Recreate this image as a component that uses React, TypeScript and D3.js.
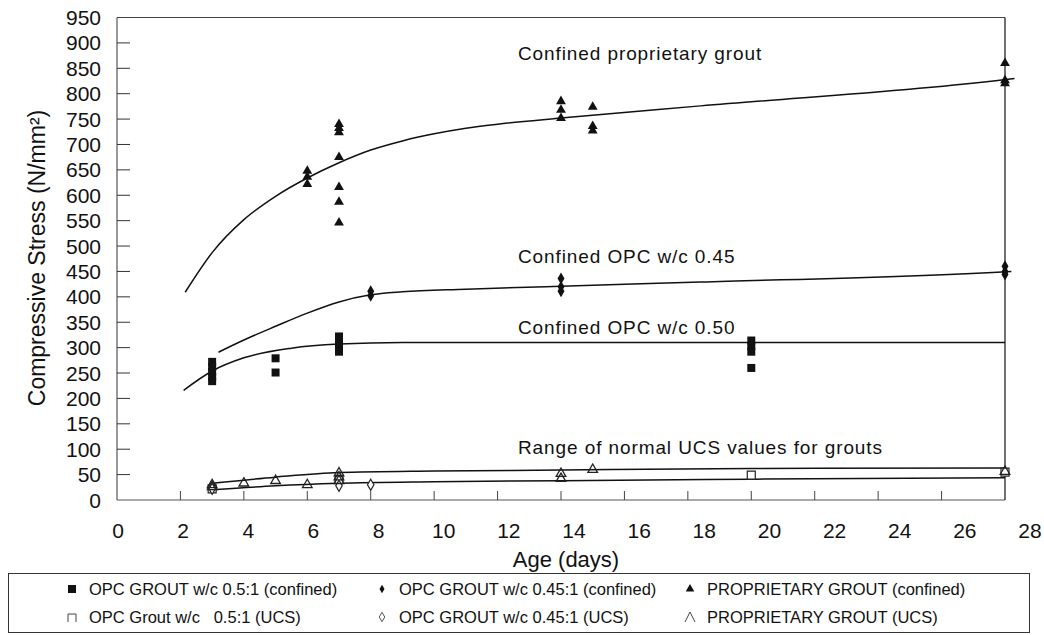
import React from 'react';
import * as d3 from 'd3';

// tick labels
const yTickValues = [0, 50, 100, 150, 200, 250, 300, 350, 400, 450, 500, 550, 600, 650, 700, 750, 800, 850, 900, 950];
const xTickValues = [0, 2, 4, 6, 8, 10, 12, 14, 16, 18, 20, 22, 24, 26, 28];

// fitted curves, [age, stress]
const curveProprietary: [number, number][] = [
  [2.15, 409], [3, 487], [4, 552], [5, 598], [6, 634], [7, 664], [8, 689], [9, 707],
  [10, 721], [11, 732], [12, 740], [14, 752], [18.4, 776], [27.9, 827], [28.3, 830],
];
const curveOpc45: [number, number][] = [
  [3.2, 291], [4, 315], [5, 342], [6, 368], [7, 390], [8, 404], [9, 410], [11, 415],
  [14, 421], [18.4, 429], [27.9, 449], [28.2, 450],
];
const curveOpc50: [number, number][] = [
  [2.1, 216], [3, 254], [4, 280], [5.5, 299], [7, 307], [9, 310], [14, 310], [28, 310],
];
const curveUcsHigh: [number, number][] = [
  [3, 33], [5, 45], [7, 54], [10, 57], [14, 59], [20, 62], [28, 63],
];
const curveUcsLow: [number, number][] = [
  [3, 20], [5, 28], [7, 33], [10, 36], [14, 38], [20, 41], [28, 44],
];

// measured points
const propConfined: [number, number][] = [
  [6, 648], [6, 636], [6, 622], [7, 740], [7, 732], [7, 724], [7, 675], [7, 616], [7, 587], [7, 546],
  [14, 785], [14, 768], [14, 752], [15, 774], [15, 736], [15, 727], [28, 860], [28, 826], [28, 820],
];
const opc45Confined: [number, number][] = [
  [8, 411], [8, 402], [14, 436], [14, 420], [14, 411], [28, 460], [28, 450], [28, 444],
];
const opc50Confined: [number, number][] = [
  [3, 272], [3, 262], [3, 252], [3, 242], [3, 234], [5, 279], [5, 251],
  [7, 322], [7, 312], [7, 302], [7, 292], [20, 314], [20, 303], [20, 292], [20, 260],
];
const propUcs: [number, number][] = [
  [3, 26], [3, 30], [4, 33], [5, 38], [6, 30], [7, 53], [7, 45], [7, 38], [14, 52], [14, 42], [15, 60], [28, 56],
];
const opc45Ucs: [number, number][] = [[3, 22], [7, 28], [8, 30]];
const opc50Ucs: [number, number][] = [[3, 22], [7, 40], [20, 49], [28, 55]];

const annotations = [
  { text: 'Confined proprietary grout', value: 880 },
  { text: 'Confined OPC w/c 0.45', value: 480 },
  { text: 'Confined OPC w/c 0.50', value: 340 },
  { text: 'Range of normal UCS values for grouts', value: 105 },
];

const legendItems = [
  { label: 'OPC GROUT w/c 0.5:1 (confined)', kind: 'sqFill' },
  { label: 'OPC GROUT w/c 0.45:1 (confined)', kind: 'diaFill' },
  { label: 'PROPRIETARY GROUT (confined)', kind: 'triFill' },
  { label: 'OPC Grout w/c   0.5:1 (UCS)', kind: 'sqOpen' },
  { label: 'OPC GROUT w/c 0.45:1 (UCS)', kind: 'diaOpen' },
  { label: 'PROPRIETARY GROUT (UCS)', kind: 'lambda' },
];

const FONT = '"Liberation Sans", Arial, Helvetica, sans-serif';

const App: React.FC = () => {
  const margin = { left: 117, right: 1005, top: 17.5, bottom: 500 };
  const x = d3.scaleLinear().domain([0, 28]).range([margin.left, margin.right]);
  // the printed day labels in the source sit on a slightly wider spacing than the ticks
  const xLabel = d3.scaleLinear().domain([0, 28]).range([118, 1030]);
  const y = d3.scaleLinear().domain([0, 950]).range([margin.bottom, margin.top]);

  const line = d3
    .line<[number, number]>()
    .x((d) => x(d[0]))
    .y((d) => y(d[1]))
    .curve(d3.curveMonotoneX);

  const tri = d3.symbol().type(d3.symbolTriangle).size(42)()!;
  const sq = d3.symbol().type(d3.symbolSquare).size(64)()!;
  const dia = d3.symbol().type(d3.symbolDiamond).size(42)()!;
  const triOpen = d3.symbol().type(d3.symbolTriangle).size(40)()!;
  const diaOpen = d3.symbol().type(d3.symbolDiamond).size(36)()!;
  const sqOpen = d3.symbol().type(d3.symbolSquare).size(64)()!;

  const legendCols = [72, 382, 690];
  const legendRows = [589, 617];

  const legendMarker = (kind: string, cx: number, cy: number) => {
    const t = `translate(${cx},${cy})`;
    switch (kind) {
      case 'sqFill':
        return <rect x={cx - 4} y={cy - 4} width={8} height={8} fill="#111" />;
      case 'diaFill':
        return <path transform={t} d={d3.symbol().type(d3.symbolDiamond).size(22)()!} fill="#111" />;
      case 'triFill':
        return <path transform={t} d={d3.symbol().type(d3.symbolTriangle).size(32)()!} fill="#111" />;
      case 'sqOpen':
        return <path d={`M${cx - 4},${cy + 5}V${cy - 3}H${cx + 4}V${cy + 5}`} fill="none" stroke="#444" strokeWidth={1} />;
      case 'diaOpen':
        return <path transform={t} d={d3.symbol().type(d3.symbolDiamond).size(26)()!} fill="none" stroke="#555" strokeWidth={1} />;
      default:
        return <path d={`M${cx - 5},${cy + 5}L${cx},${cy - 5}L${cx + 5},${cy + 5}`} fill="none" stroke="#444" strokeWidth={1} />;
    }
  };

  return (
    <svg
      width={1044}
      height={635}
      style={{ position: 'absolute', left: 0, top: 0, display: 'block', background: '#fff' }}
      fontFamily={FONT}
    >
      {/* plot frame */}
      <line x1={x(0)} x2={x(0)} y1={y(950)} y2={y(0)} stroke="#555" strokeWidth={1.2} />
      <line x1={x(0)} x2={x(28)} y1={y(0)} y2={y(0)} stroke="#555" strokeWidth={1.2} />
      <line x1={x(0)} x2={x(28)} y1={y(950)} y2={y(950)} stroke="#444" strokeWidth={1} />
      <line x1={x(28)} x2={x(28)} y1={y(950)} y2={y(0)} stroke="#111" strokeWidth={1.2} />

      {/* y ticks */}
      {yTickValues.map((v) => (
        <g key={`y${v}`}>
          {v > 0 && v < 950 && (
            <line x1={x(0)} x2={x(0) + 13} y1={y(v)} y2={y(v)} stroke="#333" strokeWidth={1} />
          )}
          <text x={101} y={y(v)} dy="0.36em" textAnchor="end" fontSize={21} fill="#111">
            {v}
          </text>
        </g>
      ))}

      {/* x ticks */}
      {xTickValues.map((v) => (
        <g key={`x${v}`}>
          {v > 0 && v < 28 && (
            <line x1={x(v)} x2={x(v)} y1={y(0)} y2={y(0) - 9} stroke="#444" strokeWidth={1} />
          )}
          <text x={xLabel(v)} y={538} textAnchor="middle" fontSize={21} fill="#111">
            {v}
          </text>
        </g>
      ))}

      <text x={566} y={567} textAnchor="middle" fontSize={22} fill="#111">
        Age (days)
      </text>
      <text
        transform={`translate(45,${258}) rotate(-90)`}
        textAnchor="middle"
        fontSize={23}
        fill="#111"
      >
        Compressive Stress (N/mm²)
      </text>

      {/* fitted curves */}
      {[curveProprietary, curveOpc45, curveOpc50, curveUcsHigh, curveUcsLow].map((c, i) => (
        <path key={`c${i}`} d={line(c)!} fill="none" stroke="#111" strokeWidth={1.5} />
      ))}

      {/* annotations */}
      {annotations.map((a) => (
        <text key={a.text} x={518} y={y(a.value)} dy="0.36em" fontSize={19} letterSpacing={0.9} fill="#111">
          {a.text}
        </text>
      ))}

      {/* points */}
      {opc50Confined.map((d, i) => (
        <path key={`s${i}`} transform={`translate(${x(d[0])},${y(d[1])})`} d={sq} fill="#111" />
      ))}
      {opc45Confined.map((d, i) => (
        <path key={`d${i}`} transform={`translate(${x(d[0])},${y(d[1])})`} d={dia} fill="#111" />
      ))}
      {propConfined.map((d, i) => (
        <path key={`t${i}`} transform={`translate(${x(d[0])},${y(d[1])})`} d={tri} fill="#111" />
      ))}
      {opc50Ucs.map((d, i) => (
        <path key={`so${i}`} transform={`translate(${x(d[0])},${y(d[1])})`} d={sqOpen} fill="#fff" stroke="#222" strokeWidth={1.2} />
      ))}
      {opc45Ucs.map((d, i) => (
        <path key={`do${i}`} transform={`translate(${x(d[0])},${y(d[1])})`} d={diaOpen} fill="#fff" stroke="#222" strokeWidth={1.2} />
      ))}
      {propUcs.map((d, i) => (
        <path key={`to${i}`} transform={`translate(${x(d[0])},${y(d[1])})`} d={triOpen} fill="none" stroke="#222" strokeWidth={1.3} />
      ))}

      {/* legend */}
      <rect x={8.5} y={573.5} width={1021} height={59} fill="none" stroke="#333" strokeWidth={1} />
      {legendItems.map((item, i) => {
        const col = i % 3;
        const row = Math.floor(i / 3);
        const cx = legendCols[col];
        const cy = legendRows[row];
        return (
          <g key={item.label}>
            {legendMarker(item.kind, cx, cy)}
            <text x={cx + 17} y={cy} dy="0.36em" fontSize={16.5} fill="#111" xmlSpace="preserve">
              {item.label}
            </text>
          </g>
        );
      })}
    </svg>
  );
};

export default App;
